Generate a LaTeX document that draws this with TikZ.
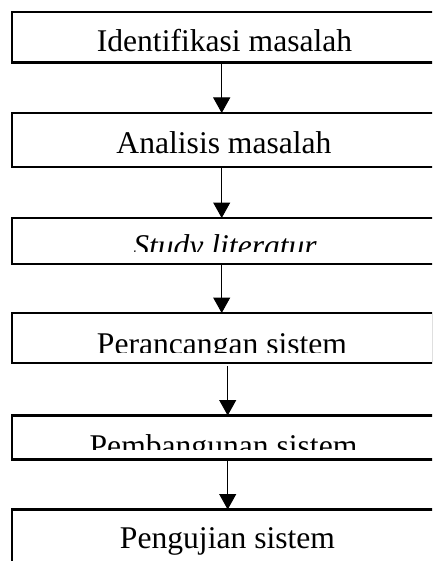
\documentclass[tikz,border=0pt]{standalone}
\usepackage{fontspec}
\setmainfont{Liberation Serif}
\usetikzlibrary{arrows.meta}
\begin{document}
\begin{tikzpicture}[x=1pt,y=-1pt,
  stepbox/.style={draw=black,line width=2.3pt,rectangle,inner sep=0pt,outer sep=0pt,
    anchor=north west,minimum width=428pt},
  steptext/.style={inner sep=0pt,anchor=base,font=\fontsize{31.6}{38}\selectfont},
  flow/.style={draw=black,line width=1pt,-{Triangle[length=15.5pt,width=17pt]}}]
\useasboundingbox (0,0) rectangle (432,561);
\fill[white] (0,0) rectangle (432,561);
\clip (0,0) rectangle (432,561);

% process boxes
\node[stepbox,minimum height=50.5pt] (b1) at (12,12) {};
\node[stepbox,minimum height=54pt] (b2) at (12,113) {};
\node[stepbox,minimum height=46pt] (b3) at (12,218) {};
\node[stepbox,minimum height=50pt,minimum width=420.7pt] (b4) at (12,313) {};
\node[stepbox,minimum height=44pt] (b5) at (12,415.5) {};
\node[stepbox,minimum height=100pt] (b6) at (12,509.5) {};

% box labels
\node[steptext] (t1) at (224.5,52) {Identifikasi masalah};
\node[steptext] (t2) at (224,153.3) {Analisis masalah};
\begin{scope}
  \clip (12,218) rectangle (440,251);
  \node[steptext,font=\fontsize{31.6}{38}\selectfont\itshape] (t3) at (225,256) {Study literatur};
\end{scope}
\begin{scope}
  \clip (12,313) rectangle (440,352.3);
  \node[steptext] (t4) at (222,354) {Perancangan sistem};
\end{scope}
\begin{scope}
  \clip (12,415.5) rectangle (440,449);
  \node[steptext] (t5) at (223.5,456) {Pembangunan sistem};
\end{scope}
\node[steptext] (t6) at (227.5,548.3) {Pengujian sistem};

% flow arrows
\draw[flow] ([xshift=209.7pt]b1.south west) -- ([xshift=209.7pt]b2.north west);
\draw[flow] ([xshift=209.7pt]b2.south west) -- ([xshift=209.7pt]b3.north west);
\draw[flow] ([xshift=209.7pt,yshift=-1pt]b3.south west) -- ([xshift=209.7pt]b4.north west);
\draw[flow] ([xshift=215.7pt,yshift=-3pt]b4.south west) -- ([xshift=215.7pt]b5.north west);
\draw[flow] ([xshift=215.7pt]b5.south west) -- ([xshift=215.7pt]b6.north west);
\end{tikzpicture}
\end{document}
